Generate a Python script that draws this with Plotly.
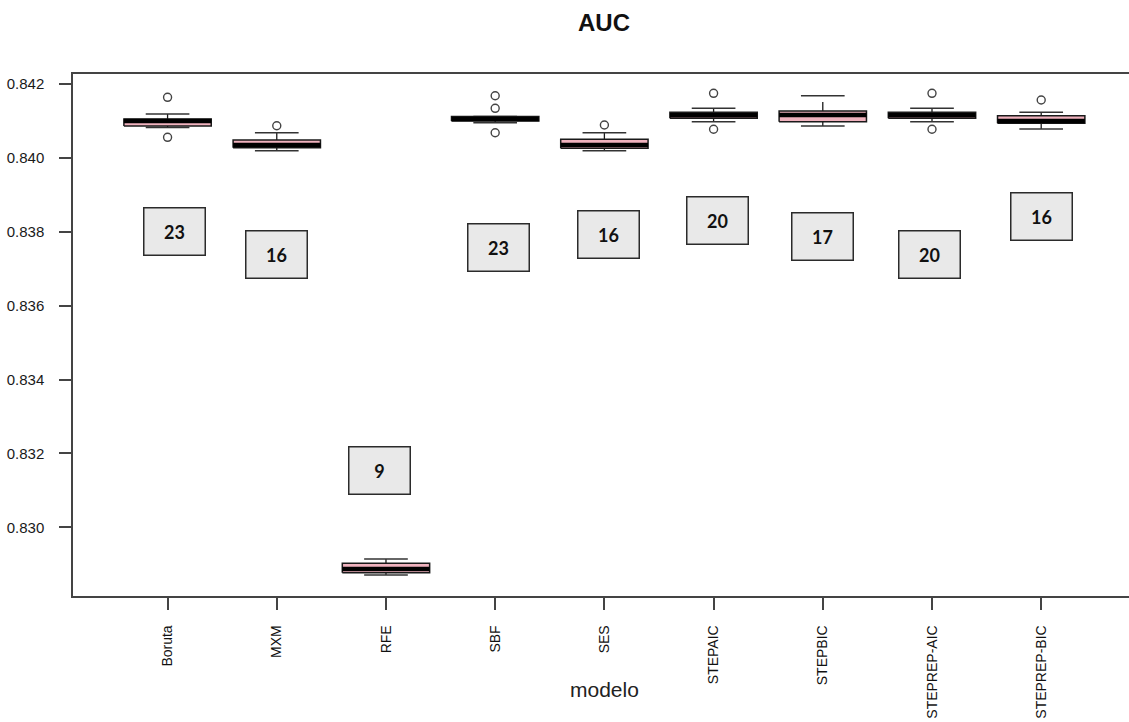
import plotly.graph_objects as go

# AUC distribution per feature-selection model
modelos = ["Boruta", "MXM", "RFE", "SBF", "SES", "STEPAIC", "STEPBIC", "STEPREP-AIC", "STEPREP-BIC"]
lower_whisker = [0.840822, 0.840194, 0.828708, 0.840953, 0.840194, 0.840979, 0.840863, 0.840979, 0.840782]
q1 = [0.840863, 0.840276, 0.828770, 0.840998, 0.840259, 0.841071, 0.840979, 0.841071, 0.840936]
median = [0.840998, 0.840349, 0.828871, 0.841053, 0.840349, 0.841153, 0.841161, 0.841153, 0.840998]
q3 = [0.841053, 0.840484, 0.829025, 0.841120, 0.840503, 0.841234, 0.841269, 0.841234, 0.841142]
upper_whisker = [0.841188, 0.840682, 0.829141, 0.841120, 0.840682, 0.841342, 0.841683, 0.841342, 0.841234]
outliers = [
    [0.841640, 0.840557],
    [0.840871],
    [],
    [0.841683, 0.841342, 0.840682],
    [0.840890],
    [0.841748, 0.840774],
    [],
    [0.841748, 0.840774],
    [0.841567],
]
# number of selected variables per model
n_variables = [23, 16, 9, 23, 16, 20, 17, 20, 16]

# placement of the count labels (value-axis centre, horizontal nudge)
label_y = [0.838021, 0.837390, 0.831551, 0.837587, 0.837926, 0.838305, 0.837885, 0.837398, 0.838427]
label_dx = [0.06, 0.0, -0.06, 0.03, 0.04, 0.04, 0.0, -0.02, 0.0]

BOX_HALF = 0.4
STAPLE_HALF = 0.2
FILL = "#f0b2be"
INK = "#1a1a1a"

fig = go.Figure()

for i, name in enumerate(modelos):
    # whiskers (dashed) and staples
    for a, b in ((q3[i], upper_whisker[i]), (q1[i], lower_whisker[i])):
        fig.add_trace(go.Scatter(x=[i, i], y=[a, b], mode="lines",
                                 line=dict(color=INK, width=1.3, dash="dash"),
                                 showlegend=False, hoverinfo="skip"))
    for w in (upper_whisker[i], lower_whisker[i]):
        fig.add_trace(go.Scatter(x=[i - STAPLE_HALF, i + STAPLE_HALF], y=[w, w], mode="lines",
                                 line=dict(color="#333333", width=1.4),
                                 showlegend=False, hoverinfo="skip"))
    # box
    fig.add_trace(go.Scatter(
        x=[i - BOX_HALF, i + BOX_HALF, i + BOX_HALF, i - BOX_HALF, i - BOX_HALF],
        y=[q1[i], q1[i], q3[i], q3[i], q1[i]],
        mode="lines", fill="toself", fillcolor=FILL,
        line=dict(color=INK, width=1.5), showlegend=False, name=name))
    # median
    fig.add_trace(go.Scatter(x=[i - BOX_HALF, i + BOX_HALF], y=[median[i], median[i]],
                             mode="lines", line=dict(color="black", width=4.5),
                             showlegend=False, hoverinfo="skip"))
    # outliers
    if outliers[i]:
        fig.add_trace(go.Scatter(x=[i] * len(outliers[i]), y=outliers[i], mode="markers",
                                 marker=dict(symbol="circle-open", size=8,
                                             color="#444444", line=dict(width=1.4)),
                                 showlegend=False))

# count labels
for i, n in enumerate(n_variables):
    fig.add_annotation(x=i + label_dx[i], y=label_y[i], xref="x", yref="y",
                       text=f"<b>{n}</b>", showarrow=False,
                       font=dict(family="Lato", size=18, color="#111111"),
                       bgcolor="#e9e9e9", bordercolor="#2b2b2b", borderwidth=1.5,
                       borderpad=0, width=60, height=46, align="center", valign="middle")

# title and x-axis title
fig.add_annotation(x=4, y=1, xref="x", yref="paper", text="<b>AUC</b>", showarrow=False,
                   yanchor="middle", yshift=52,
                   font=dict(family="Liberation Sans, Arial", size=24, color="#111111"))
fig.add_annotation(x=4, y=0, xref="x", yref="paper", text="modelo", showarrow=False,
                   yanchor="middle", yshift=-93,
                   font=dict(family="Liberation Sans, Arial", size=21, color="#222222"))

fig.update_layout(
    width=1129, height=722,
    margin=dict(l=73, r=0, t=74, b=126, autoexpand=False),
    plot_bgcolor="white", paper_bgcolor="white",
    showlegend=False,
    font=dict(family="Liberation Sans, Arial", color="#1a1a1a"),
)
fig.update_xaxes(
    range=[-0.866, 8.804], tickmode="array", tickvals=list(range(len(modelos))),
    ticktext=modelos, tickangle=-90, ticks="outside", ticklen=12, tickwidth=1.5,
    tickcolor="#444444", tickfont=dict(size=14, color="#111111"), ticklabelstandoff=10,
    showline=True, linecolor="#444444", linewidth=1.5, mirror=True,
    showgrid=False, zeroline=False, automargin=False,
)
fig.update_yaxes(
    range=[0.82814, 0.842271], tickmode="array",
    tickvals=[0.830, 0.832, 0.834, 0.836, 0.838, 0.840, 0.842],
    tickformat=".3f", ticks="outside", ticklen=12, tickwidth=1.5, tickcolor="#444444",
    tickfont=dict(size=15), ticklabelstandoff=12,
    showline=True, linecolor="#444444", linewidth=1.5, mirror=False,
    showgrid=False, zeroline=False, automargin=False,
)

fig.write_html("out.html")
